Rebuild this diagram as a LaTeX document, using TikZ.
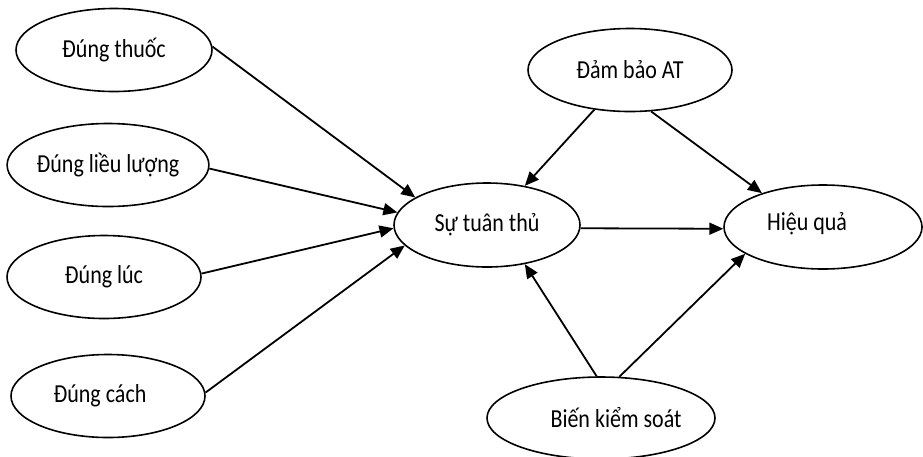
\documentclass[tikz,border=0pt]{standalone}
\usepackage{fontspec}
\setmainfont{Carlito}
\usepackage{graphicx}
\usetikzlibrary{shapes.geometric,arrows.meta}
% slightly tall lettering
\newcommand\tallword[1]{\scalebox{1}[1.18]{#1}}
\begin{document}
\begin{tikzpicture}[x=1pt,y=-1pt,
  oval/.style={ellipse, draw, line width=1.6pt, inner sep=0pt,
    font=\fontsize{22}{26}\selectfont},
  ovaltext/.style={font=\fontsize{22}{26}\selectfont},
  link/.style={line width=1.8pt, -{Triangle[length=14pt,width=12pt]}}]
\useasboundingbox (0,0) rectangle (923,456);

% causes on the left
\node[oval, minimum width=196pt, minimum height=83pt] (thuoc) at (114,50) {\tallword{Đúng thuốc}};
\node[oval, minimum width=194pt, minimum height=83pt] (lieu) at (108,165) {\tallword{Đúng liều lượng}};
\node[oval, minimum width=194pt, minimum height=83pt] (luc) at (104,277) {\tallword{Đúng lúc}};
\node[oval, minimum width=194pt, minimum height=83pt,
  label={[ovaltext,xshift=-8pt]center:\tallword{Đúng cách}}] (cach) at (108,396) {};

% mediator, outcome and other influences
\node[oval, minimum width=186pt, minimum height=84pt] (tuan) at (487,225) {\tallword{Sự tuân thủ}};
\node[oval, minimum width=198pt, minimum height=84pt,
  label={[ovaltext,xshift=-16pt,yshift=3pt]center:\tallword{Hiệu quả}}] (hq) at (823,227) {};
\node[oval, minimum width=204pt, minimum height=83pt] (at) at (630,70) {\tallword{Đảm bảo AT}};
\node[oval, minimum width=228pt, minimum height=82pt,
  label={[ovaltext,xshift=15pt]center:\tallword{Biến kiểm soát}}] (bien) at (601,418) {};

% arrows
\draw[link] (thuoc.2) -- (tuan.159);
\draw[link] (lieu.358) -- (tuan.172);
\draw[link] (luc.2) -- (tuan.182);
\draw[link] (cach.2) -- (tuan.194);
\draw[link] (at.228) -- (tuan.46);
\draw[link] (at.297) -- (hq.151);
\draw[link] (tuan.358) -- (hq.181);
\draw[link] (bien.96) -- (tuan.314);
\draw[link] (bien.66) -- (hq.199);
\end{tikzpicture}
\end{document}
